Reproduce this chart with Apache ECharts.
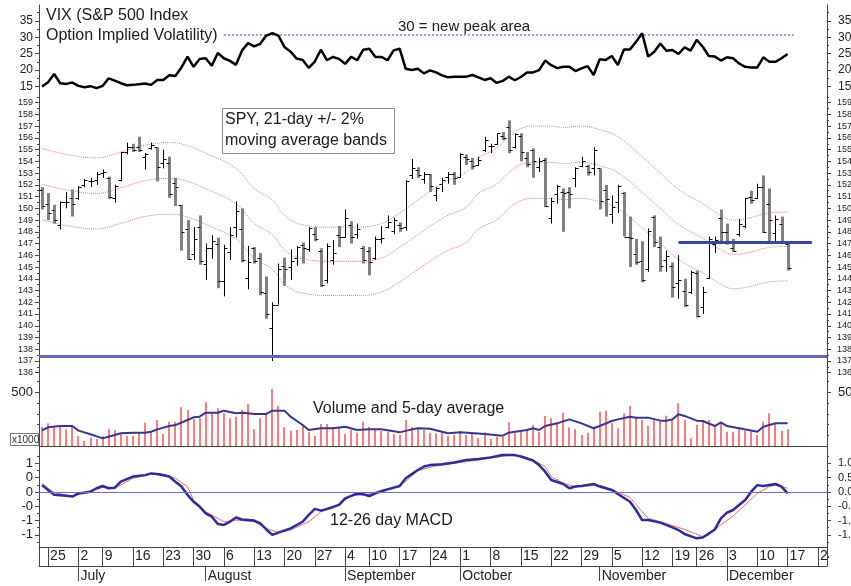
<!DOCTYPE html>
<html>
<head>
<meta charset="utf-8">
<script src="https://cdn.jsdelivr.net/npm/echarts@6/dist/echarts.min.js"></script>
<style>
html, body { margin: 0; padding: 0; background: #fff; }
#main { width: 851px; height: 586px; }
</style>
</head>
<body>
<div id="main"></div>
<script>
// trading days, 2007
var junDays = [22, 25, 26, 27, 28, 29];
var julDays = [2, 3, 5, 6, 9, 10, 11, 12, 13, 16, 17, 18, 19, 20, 23, 24, 25, 26, 27, 30, 31];
var augDays = [1, 2, 3, 6, 7, 8, 9, 10, 13, 14, 15, 16, 17, 20, 21, 22, 23, 24, 27, 28, 29, 30, 31];
var sepDays = [4, 5, 6, 7, 10, 11, 12, 13, 14, 17, 18, 19, 20, 21, 24, 25, 26, 27, 28];
var octDays = [1, 2, 3, 4, 5, 8, 9, 10, 11, 12, 15, 16, 17, 18, 19, 22, 23, 24, 25, 26, 29, 30, 31];
var novDays = [1, 2, 5, 6, 7, 8, 9, 12, 13, 14, 15, 16, 19, 20, 21, 23, 26, 27, 28, 29, 30];
var decDays = [3, 4, 5, 6, 7, 10, 11, 12, 13, 14, 17, 18, 19, 20, 21, 24, 26];
var monthNames = ['January', 'February', 'March', 'April', 'May', 'June', 'July',
    'August', 'September', 'October', 'November', 'December'];

// VIX close
var vix = [
    15.0, 16.3, 18.8, 16.0, 15.8, 16.2, 15.2, 14.8, 15.1, 14.5,
    15.2, 17.5, 16.8, 16.0, 15.4, 15.5, 15.7, 15.9, 15.5, 17.0,
    17.0, 18.4, 18.2, 20.8, 24.1, 21.0, 23.4, 23.6, 21.3, 25.2,
    23.6, 22.8, 21.6, 26.0, 28.2, 27.2, 28.0, 30.5, 31.2, 30.5,
    27.0, 25.6, 23.5, 23.1, 20.7, 22.6, 26.2, 23.0, 24.0, 23.4,
    21.9, 24.0, 23.0, 26.2, 26.5, 24.0, 24.0, 23.0, 26.0, 26.5,
    20.4, 20.0, 20.4, 19.0, 19.9, 19.3, 18.4, 17.8, 18.0, 18.0,
    18.0, 18.5, 17.8, 17.0, 17.5, 16.1, 16.7, 18.0, 16.9, 17.9,
    19.3, 19.3, 20.0, 22.9, 21.5, 20.6, 21.0, 21.0, 19.7, 20.5,
    21.2, 18.5, 23.3, 23.1, 24.3, 21.5, 26.3, 26.3, 28.6, 31.2,
    24.1, 25.6, 28.1, 25.9, 26.1, 24.9, 26.9, 25.9, 29.2, 27.1,
    24.3, 24.1, 22.9, 23.9, 23.6, 22.0, 21.0, 20.8, 20.8, 23.9,
    22.5, 22.5, 23.6, 24.9
];
var vixPeak = 30.7;

// SPY daily bars
var spyOpen = [
    151.6, 150.4, 149.9, 148.6, 150.5, 150.9, 150.9, 152.0, 152.3, 152.4,
    153.0, 152.6, 150.9, 152.4, 154.8, 155.2, 155.2, 154.4, 155.1, 155.2,
    153.9, 153.9, 152.2, 150.3, 148.2, 146.1, 148.4, 145.3, 146.6, 147.0,
    143.8, 146.3, 148.4, 148.2, 144.1, 146.6, 145.8, 142.8, 139.8, 141.8,
    145.1, 145.0, 145.8, 146.9, 146.5, 147.8, 146.4, 143.9, 145.6, 147.7,
    147.6, 148.6, 147.8, 146.6, 146.4, 145.8, 147.4, 148.4, 148.1, 148.6,
    148.4, 152.8, 153.3, 152.5, 152.9, 151.1, 152.1, 152.7, 152.9, 152.7,
    154.4, 154.0, 153.7, 155.0, 155.3, 155.5, 156.2, 156.9, 155.2, 156.2,
    154.3, 155.0, 153.5, 154.1, 149.2, 151.2, 151.4, 151.4, 152.6, 153.6,
    153.6, 153.4, 153.4, 151.6, 149.5, 150.5, 151.3, 147.6, 146.1, 145.5,
    144.8, 149.3, 146.7, 145.6, 145.1, 143.6, 143.0, 142.9, 144.5, 141.6,
    144.1, 147.0, 149.2, 148.0, 146.6, 147.8, 148.5, 151.0, 150.9, 151.8,
    150.4, 147.9, 148.7, 147.0
];
var spyHigh = [
    151.8, 151.3, 150.3, 150.6, 151.4, 151.6, 151.9, 152.5, 152.6, 153.1,
    153.3, 152.7, 152.0, 154.8, 155.6, 155.5, 156.1, 154.7, 155.6, 155.2,
    155.0, 154.4, 152.6, 150.3, 149.0, 148.4, 149.4, 147.0, 147.7, 147.5,
    146.9, 148.4, 150.6, 150.0, 146.8, 146.7, 146.2, 144.2, 142.0, 145.3,
    145.8, 146.5, 146.8, 147.1, 148.4, 148.4, 146.6, 147.0, 147.3, 148.5,
    149.9, 148.9, 148.7, 146.8, 146.7, 147.6, 148.5, 149.4, 149.2, 148.8,
    152.4, 154.2, 153.5, 153.1, 152.9, 151.8, 152.6, 153.1, 153.1, 154.7,
    154.6, 154.3, 154.4, 156.1, 155.5, 156.4, 156.5, 157.5, 156.4, 156.4,
    154.8, 155.1, 154.3, 154.3, 150.9, 152.0, 151.7, 151.8, 153.5, 154.4,
    153.7, 155.2, 153.4, 152.0, 151.1, 152.0, 151.4, 149.3, 147.4, 147.2,
    148.3, 149.4, 147.6, 146.4, 145.4, 146.0, 144.0, 144.7, 144.7, 143.3,
    147.6, 147.6, 149.9, 148.7, 147.4, 149.1, 150.9, 151.5, 152.1, 152.8,
    151.7, 149.4, 149.3, 147.1
];
var spyLow = [
    149.9, 149.0, 148.7, 148.2, 150.0, 149.3, 150.7, 151.8, 151.8, 152.0,
    152.6, 150.8, 150.5, 152.3, 154.6, 154.8, 154.8, 153.3, 155.0, 152.3,
    153.4, 150.9, 150.2, 146.4, 145.6, 145.6, 145.2, 143.9, 145.7, 143.2,
    142.5, 145.6, 147.5, 145.4, 143.1, 145.3, 142.6, 140.6, 137.0, 141.8,
    143.4, 143.9, 145.1, 145.3, 146.3, 147.2, 143.3, 143.6, 145.2, 146.7,
    147.5, 147.0, 147.4, 145.3, 144.3, 145.6, 147.0, 148.3, 147.8, 148.0,
    148.1, 152.5, 152.6, 152.1, 151.4, 150.6, 151.4, 152.1, 152.0, 152.6,
    153.7, 153.3, 153.6, 154.8, 154.7, 155.4, 155.8, 154.7, 155.1, 154.0,
    153.5, 152.6, 153.1, 150.1, 148.7, 150.4, 148.0, 150.0, 151.8, 153.5,
    152.8, 152.8, 149.9, 149.3, 148.7, 149.6, 147.6, 145.0, 145.2, 143.7,
    144.6, 146.7, 144.6, 144.6, 142.4, 142.3, 141.6, 142.7, 140.7, 141.0,
    144.0, 146.2, 147.2, 146.9, 146.3, 147.6, 148.3, 150.4, 150.8, 147.9,
    147.1, 147.1, 147.0, 144.7
];
var spyClose = [
    150.2, 149.6, 149.0, 150.5, 150.5, 150.4, 151.8, 152.4, 152.3, 152.9,
    153.1, 151.0, 151.9, 154.8, 155.2, 155.0, 155.0, 154.6, 155.4, 153.5,
    154.2, 151.2, 151.8, 148.0, 145.7, 147.4, 145.5, 146.6, 147.2, 143.8,
    146.6, 147.7, 149.8, 145.6, 145.4, 145.5, 142.9, 141.0, 141.8, 144.8,
    144.8, 145.5, 146.7, 146.6, 148.3, 147.4, 143.5, 146.8, 146.2, 147.6,
    149.2, 147.6, 148.2, 145.6, 145.4, 147.4, 147.5, 148.8, 149.0, 148.3,
    152.3, 153.4, 152.8, 152.9, 151.9, 151.7, 152.4, 152.9, 152.6, 154.6,
    154.2, 153.6, 154.1, 155.8, 155.3, 156.4, 156.0, 155.0, 156.3, 154.8,
    153.8, 154.0, 154.0, 150.2, 150.6, 151.9, 151.3, 151.2, 153.4, 154.0,
    153.1, 155.0, 150.6, 150.8, 150.1, 151.9, 147.6, 147.5, 145.4, 143.9,
    148.1, 147.1, 145.1, 145.9, 143.3, 143.9, 141.8, 144.6, 140.8, 142.9,
    147.4, 147.3, 148.0, 147.2, 146.4, 148.7, 150.9, 150.7, 151.8, 148.0,
    149.0, 149.1, 147.2, 144.9
];

// 21-day moving average (middle band), read at [day index, value]
var bandMid = [
    [0, 152.06], [4, 151.57], [9, 151.27], [13, 151.76], [17, 152.35], [21, 152.55],
    [23, 152.45], [27, 151.67], [32, 150.39], [35, 148.73], [38, 147.75], [40, 146.47],
    [43, 145.69], [48, 145.49], [52, 145.49], [56, 145.78], [59, 146.67], [62, 147.75],
    [65, 148.82], [67, 149.41], [70, 150.10], [72, 151.27], [75, 152.06], [77, 153.04],
    [79, 153.73], [81, 153.92], [84, 153.92], [86, 153.82], [89, 153.92], [92, 153.63],
    [95, 153.04], [99, 151.37], [102, 150.00], [105, 148.63], [109, 147.45], [112, 146.47],
    [114, 146.08], [116, 146.18], [120, 146.67], [123, 146.76]
];
var bandPct = 0.02;
var supportLevel = 137.4;
var resistanceLevel = 147.07;

// volume (x1000) and its 5-day average
var volume = [
    180, 211, 186, 195, 155, 186, 93, 47, 78, 65,
    93, 155, 149, 109, 96, 93, 121, 217, 133, 242,
    112, 226, 226, 360, 335, 248, 258, 407, 304, 351,
    304, 258, 273, 335, 391, 155, 258, 304, 531, 372,
    174, 143, 149, 186, 127, 93, 205, 205, 174, 174,
    112, 149, 124, 226, 180, 155, 143, 133, 112, 102,
    242, 174, 165, 149, 124, 118, 133, 93, 102, 140,
    102, 118, 71, 127, 65, 87, 87, 220, 118, 133,
    149, 195, 133, 279, 258, 211, 310, 174, 155, 102,
    124, 180, 319, 329, 211, 165, 304, 372, 273, 242,
    189, 242, 242, 282, 242, 397, 242, 71, 195, 242,
    242, 195, 211, 133, 133, 174, 143, 133, 102, 226,
    304, 217, 143, 155
];
var volAvg = [
    [0, 145], [1, 174], [3, 186], [5, 186], [6, 143], [8, 109], [10, 71], [12, 102],
    [13, 118], [15, 124], [17, 124], [18, 133], [19, 155], [21, 186], [22, 195], [24, 242],
    [25, 267], [26, 273], [27, 310], [29, 310], [30, 329], [32, 304], [33, 310], [34, 304],
    [35, 298], [37, 298], [38, 329], [40, 329], [41, 273], [43, 195], [44, 149], [46, 165],
    [48, 165], [50, 180], [52, 149], [54, 155], [56, 155], [59, 127], [61, 155], [62, 165],
    [64, 160], [67, 118], [69, 127], [73, 112], [76, 96], [77, 124], [80, 149], [81, 165],
    [82, 149], [83, 186], [85, 211], [87, 248], [89, 211], [91, 165], [92, 186], [94, 233],
    [95, 248], [97, 273], [98, 264], [100, 264], [102, 236], [103, 236], [104, 248], [105, 295],
    [106, 280], [108, 236], [109, 233], [111, 186], [112, 220], [113, 186], [115, 165], [118, 133],
    [119, 180], [121, 211], [123, 211]
];

// 12-26 MACD and signal
var macdLine = [
    [0, 0.24], [1, 0.07], [2, -0.10], [4, -0.13], [5, -0.16], [6, -0.05], [8, 0.01], [9, 0.13],
    [10, 0.21], [11, 0.13], [12, 0.15], [13, 0.36], [15, 0.54], [17, 0.59], [18, 0.65], [19, 0.63],
    [21, 0.54], [22, 0.36], [23, 0.19], [24, -0.10], [25, -0.34], [26, -0.51], [27, -0.75], [28, -0.86],
    [29, -1.12], [30, -1.15], [31, -1.04], [32, -0.89], [33, -0.96], [35, -1.00], [36, -1.10], [37, -1.31],
    [38, -1.50], [39, -1.42], [41, -1.27], [43, -1.04], [44, -0.80], [45, -0.59], [46, -0.65], [47, -0.59],
    [49, -0.45], [50, -0.22], [52, -0.05], [53, -0.08], [54, -0.14], [55, -0.05], [57, 0.09], [59, 0.21],
    [60, 0.48], [62, 0.77], [63, 0.89], [64, 0.94], [66, 0.97], [68, 1.03], [70, 1.12], [72, 1.15],
    [74, 1.21], [76, 1.29], [78, 1.29], [79, 1.24], [81, 1.10], [82, 0.94], [83, 0.71], [84, 0.42],
    [86, 0.28], [87, 0.13], [88, 0.19], [89, 0.21], [91, 0.28], [92, 0.19], [94, 0.07], [95, -0.07],
    [97, -0.34], [98, -0.63], [99, -0.98], [100, -0.98], [102, -1.07], [104, -1.24], [105, -1.33], [106, -1.47],
    [108, -1.62], [109, -1.59], [111, -1.31], [112, -0.92], [113, -0.72], [114, -0.63], [116, -0.28], [117, 0.01],
    [118, 0.24], [119, 0.21], [121, 0.28], [122, 0.19], [123, -0.05]
];
var macdSignal = [
    [0, 0.30], [2, -0.02], [5, -0.16], [7, -0.01], [10, 0.16], [12, 0.13], [15, 0.48], [18, 0.62],
    [20, 0.63], [22, 0.48], [24, 0.19], [25, -0.28], [27, -0.69], [30, -1.04], [32, -0.98], [35, -1.04],
    [37, -1.27], [39, -1.42], [41, -1.33], [44, -1.04], [46, -0.69], [48, -0.57], [51, -0.14], [54, -0.07],
    [56, 0.07], [59, 0.19], [62, 0.75], [65, 0.91], [68, 1.00], [73, 1.15], [77, 1.28], [79, 1.26],
    [81, 1.12], [83, 0.89], [84, 0.54], [86, 0.30], [88, 0.19], [90, 0.21], [92, 0.24], [94, 0.09],
    [97, -0.19], [99, -0.69], [100, -0.92], [103, -1.10], [106, -1.31], [109, -1.56], [110, -1.50], [112, -1.15],
    [114, -0.84], [116, -0.45], [118, -0.05], [120, 0.19], [121, 0.24], [123, 0.13]
];

// 日期轴
var dates = [];
[[5, junDays], [6, julDays], [7, augDays], [8, sepDays], [9, octDays], [10, novDays], [11, decDays]].forEach(function (m) {
    m[1].forEach(function (d) {
        dates.push(new Date(2007, m[0], d));
    });
});
var categories = dates.map(function (d) {
    return d.getFullYear() + '-' + (d.getMonth() + 1) + '-' + d.getDate();
});
function isWeekStart(i) {
    return i > 0 && dates[i].getDay() < dates[i - 1].getDay();
}
function isMonthStart(i) {
    return i > 0 && dates[i].getMonth() !== dates[i - 1].getMonth();
}

var spyBars = spyOpen.map(function (o, i) {
    return [i, o, spyHigh[i], spyLow[i], spyClose[i]];
});
var volumeBars = volume.map(function (v, i) { return [i, v]; });
var bandUpper = bandMid.map(function (p) { return [p[0], p[1] * (1 + bandPct)]; });
var bandLower = bandMid.map(function (p) { return [p[0], p[1] * (1 - bandPct)]; });

var FONT = 'Liberation Sans, Arial, sans-serif';
var AXIS = '#444';
var LEFT = 39, WIDTH = 788;

function range(a, b, step) {
    var out = [];
    for (var v = a; v <= b + 1e-9; v += step) out.push(Math.round(v * 100) / 100);
    return out;
}

// 每个面板: 左右主刻度 + 次刻度
function yAxes(grid, min, max, labels, minors, size, sizeR, marginR, fmtL, fmtR) {
    function base(pos) {
        return {
            type: 'value', gridIndex: grid, position: pos, min: min, max: max,
            splitLine: { show: false },
            axisLine: { show: true, lineStyle: { color: AXIS, width: 1 } }
        };
    }
    var lm = base('left');
    lm.axisTick = { show: true, customValues: labels, length: 4, lineStyle: { color: AXIS } };
    lm.axisLabel = { customValues: labels, fontSize: size, color: '#222', margin: 6, fontFamily: FONT, formatter: fmtL };
    var ln = base('left');
    ln.axisLine = { show: false };
    ln.axisTick = { show: true, customValues: minors, length: 2, lineStyle: { color: AXIS } };
    ln.axisLabel = { show: false };
    var rm = base('right');
    rm.axisTick = { show: true, customValues: labels, length: 4, lineStyle: { color: AXIS } };
    rm.axisLabel = { customValues: labels, fontSize: sizeR, color: '#222', margin: marginR, fontFamily: FONT, formatter: fmtR };
    var rn = base('right');
    rn.axisLine = { show: false };
    rn.axisTick = { show: true, customValues: minors, length: 2, lineStyle: { color: AXIS } };
    rn.axisLabel = { show: false };
    return [lm, ln, rm, rn];
}

function plainX(grid, showLine) {
    return {
        type: 'category', gridIndex: grid, data: categories, boundaryGap: true,
        axisLine: { show: showLine, onZero: false, lineStyle: { color: AXIS } },
        axisTick: { show: false }, axisLabel: { show: false }, splitLine: { show: false }
    };
}

function truncLabel(v) {
    if (v === 0) return '0';
    return (v < 0 ? '-' : '') + Math.floor(Math.abs(v) + 1e-9);
}

var yAxis = [].concat(
    yAxes(0, 13.33, 39.81, [15, 20, 25, 30, 35], [17.5, 22.5, 27.5, 32.5, 37.5], 12, 12, 11),
    yAxes(1, 135.55, 159.91, range(136, 159, 1), range(135.5, 159.5, 1), 9, 9, 10),
    yAxes(2, 0, 633, [500], [100, 200, 300, 400, 600], 13, 13, 11),
    yAxes(3, -1.923, 1.608, [-1.5, -1, -0.5, 0, 0.5, 1], [-1.75, -1.25, -0.75, -0.25, 0.25, 0.75, 1.25], 13, 11, 11,
        truncLabel, function (v) { return v.toFixed(1); }),
    [
        { type: 'value', gridIndex: 4, position: 'left', min: 0, max: 1, splitLine: { show: false },
            axisLine: { show: true, lineStyle: { color: AXIS } }, axisTick: { show: false }, axisLabel: { show: false } },
        { type: 'value', gridIndex: 4, position: 'right', min: 0, max: 1, splitLine: { show: false },
            axisLine: { show: true, lineStyle: { color: AXIS } }, axisTick: { show: false }, axisLabel: { show: false } }
    ]
);

var xAxis = [
    plainX(0, false),
    plainX(1, false),
    plainX(2, true),
    plainX(3, true),
    {
        type: 'category', gridIndex: 4, data: categories, boundaryGap: true, position: 'bottom',
        axisLine: { show: true, onZero: false, lineStyle: { color: AXIS } },
        axisTick: {
            show: true, inside: true, length: 19, alignWithLabel: true,
            interval: function (i) { return isWeekStart(i); }, lineStyle: { color: AXIS }
        },
        axisLabel: {
            inside: true, margin: 3, align: 'left', padding: [0, 0, 0, 2],
            fontSize: 14, color: '#222', fontFamily: FONT,
            interval: function (i) { return isWeekStart(i); },
            formatter: function (v, i) { return String(dates[i].getDate()); }
        },
        splitLine: { show: false }
    },
    {
        type: 'category', gridIndex: 4, data: categories, boundaryGap: true, position: 'bottom',
        axisLine: { show: false, onZero: false },
        axisTick: {
            show: true, inside: false, length: 15, alignWithLabel: true,
            interval: function (i) { return isMonthStart(i); }, lineStyle: { color: AXIS }
        },
        axisLabel: {
            margin: 3, align: 'left', padding: [0, 0, 0, 2],
            fontSize: 14, color: '#222', fontFamily: FONT,
            interval: function (i) { return isMonthStart(i); },
            formatter: function (v, i) { return monthNames[dates[i].getMonth()]; }
        },
        splitLine: { show: false }
    }
];

function renderBar(params, api) {
    var i = api.value(0);
    var o = api.value(1), h = api.value(2), l = api.value(3), c = api.value(4);
    var pH = api.coord([i, h]), pL = api.coord([i, l]);
    var pO = api.coord([i, o]), pC = api.coord([i, c]);
    var down = c < o;
    var color = down ? '#808080' : '#000';
    var x = Math.round(pH[0]) + 0.5;
    return {
        type: 'group',
        children: [
            { type: 'line', shape: { x1: x, y1: pH[1], x2: x, y2: pL[1] },
                style: { stroke: color, lineWidth: down ? 3 : 1 } },
            { type: 'line', shape: { x1: x - 3, y1: Math.round(pO[1]) + 0.5, x2: x, y2: Math.round(pO[1]) + 0.5 },
                style: { stroke: '#000', lineWidth: 1 } },
            { type: 'line', shape: { x1: x, y1: Math.round(pC[1]) + 0.5, x2: x + 3, y2: Math.round(pC[1]) + 0.5 },
                style: { stroke: '#000', lineWidth: 1 } }
        ]
    };
}

function renderVolume(params, api) {
    var top = api.coord([api.value(0), api.value(1)]);
    var base = api.coord([api.value(0), 0]);
    var x = Math.round(top[0]);
    return {
        type: 'line', shape: { x1: x, y1: top[1], x2: x, y2: base[1] },
        style: { stroke: '#ff7a7a', lineWidth: 2 }
    };
}

function bandSeries(data) {
    return {
        type: 'line', xAxisIndex: 1, yAxisIndex: 4, data: data, smooth: 0.4,
        symbol: 'none', silent: true, z: 1,
        lineStyle: { color: '#f07878', width: 1, type: 'dotted' }
    };
}

function txt(x, y, text, size) {
    return {
        type: 'text', x: x, y: y, z: 50,
        style: { text: text, fontSize: size, fontFamily: FONT, fill: '#1a1a1a', verticalAlign: 'middle' }
    };
}

var main = document.getElementById('main');
var chart = echarts.init(main);

var option = {
    animation: false,
    backgroundColor: '#fff',
    textStyle: { fontFamily: FONT },
    grid: [
        { left: LEFT, width: WIDTH, top: 5, height: 87, outerBoundsMode: 'none' },
        { left: LEFT, width: WIDTH, top: 92, height: 286, outerBoundsMode: 'none' },
        { left: LEFT, width: WIDTH, top: 378, height: 68, outerBoundsMode: 'none' },
        { left: LEFT, width: WIDTH, top: 446, height: 101, outerBoundsMode: 'none' },
        { left: LEFT, width: WIDTH, top: 547, height: 19, outerBoundsMode: 'none' }
    ],
    xAxis: xAxis,
    yAxis: yAxis,
    series: [
        // VIX
        {
            type: 'line', xAxisIndex: 0, yAxisIndex: 0, data: vix, symbol: 'none', z: 3,
            lineStyle: { color: '#000', width: 2.5 }
        },
        {
            type: 'line', xAxisIndex: 0, yAxisIndex: 0, symbol: 'none', silent: true, z: 2,
            data: [[30, vixPeak], [124, vixPeak]],
            lineStyle: { color: '#3c3cd0', width: 1, type: [2, 2] }
        },
        // SPY bands
        bandSeries(bandUpper),
        bandSeries(bandMid),
        bandSeries(bandLower),
        // SPY bars
        {
            type: 'custom', xAxisIndex: 1, yAxisIndex: 4, data: spyBars, z: 3,
            encode: { x: 0, y: [1, 2, 3, 4] }, renderItem: renderBar,
            markLine: {
                silent: true, symbol: 'none', label: { show: false },
                data: [
                    { yAxis: supportLevel, lineStyle: { color: '#6464bc', width: 3, type: 'solid' } },
                    [
                        { coord: [105, resistanceLevel], lineStyle: { color: '#3446a8', width: 3, type: 'solid' } },
                        { coord: [127, resistanceLevel] }
                    ]
                ]
            }
        },
        // volume
        {
            type: 'custom', xAxisIndex: 2, yAxisIndex: 8, data: volumeBars, z: 2,
            encode: { x: 0, y: 1 }, renderItem: renderVolume
        },
        {
            type: 'line', xAxisIndex: 2, yAxisIndex: 8, data: volAvg, symbol: 'none', z: 3,
            lineStyle: { color: '#36368f', width: 2 }
        },
        // MACD
        {
            type: 'line', xAxisIndex: 3, yAxisIndex: 12, data: macdSignal, symbol: 'none', z: 3,
            lineStyle: { color: '#ff6a6a', width: 1 },
            markLine: {
                silent: true, symbol: 'none', label: { show: false },
                data: [{ yAxis: 0 }],
                lineStyle: { color: '#6a6ad6', width: 1, type: 'solid' }
            }
        },
        {
            type: 'line', xAxisIndex: 3, yAxisIndex: 12, data: macdLine, symbol: 'none', z: 4,
            lineStyle: { color: '#2c2c98', width: 2.5 }
        }
    ],
    graphic: [
        txt(46, 16, 'VIX (S&P 500 Index', 16),
        txt(46, 36, 'Option Implied Volatility)', 16),
        txt(398, 27, '30 = new peak area', 15),
        {
            type: 'rect', z: 49, shape: { x: 222.5, y: 108.5, width: 172, height: 45 },
            style: { fill: '#fff', stroke: '#8a8a8a', lineWidth: 1 }
        },
        txt(225, 120, 'SPY, 21-day +/- 2%', 16),
        txt(225, 141, 'moving average bands', 16),
        txt(313, 409, 'Volume and 5-day average', 16),
        txt(330, 521, '12-26 day MACD', 16),
        {
            type: 'rect', z: 49, shape: { x: 10.5, y: 433.5, width: 28, height: 12 },
            style: { fill: '#fff', stroke: '#777', lineWidth: 1 }
        },
        {
            type: 'text', x: 12, y: 440, z: 50,
            style: { text: 'x1000', fontSize: 10, fontFamily: FONT, fill: '#333', verticalAlign: 'middle' }
        },
        {
            type: 'rect', z: 60, shape: { x: 829, y: 548, width: 22, height: 17 },
            style: { fill: '#fff' }
        }
    ]
};

chart.setOption(option);
</script>
</body>
</html>
